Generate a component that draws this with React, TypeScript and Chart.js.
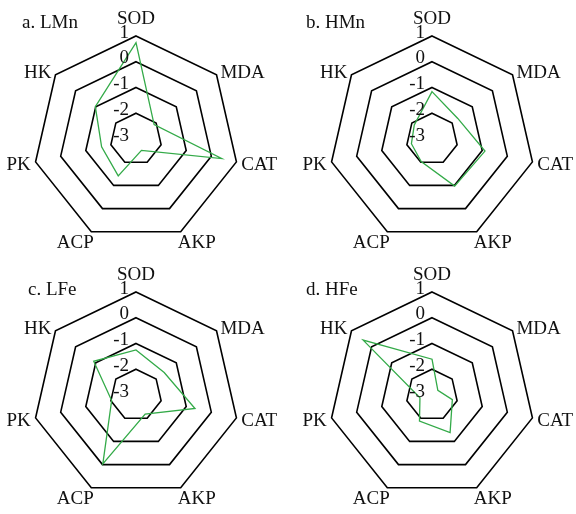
import React, { useEffect, useRef } from "react";
import { Chart, registerables } from "chart.js";

Chart.register(...registerables);

const AXES = ["SOD", "MDA", "CAT", "AKP", "ACP", "PK", "HK"];
const TICK_VALUES = [1, 0, -1, -2, -3];
const TICK_LABELS = ["1", "0", "-1", "-2", "-3"];
const TITLES = ["a. LMn", "b. HMn", "c. LFe", "d. HFe"];

const LMN = [0.74, -2.1, 0.41, -2.51, -1.41, -1.63, -0.98];
const HMN = [-1.16, -1.72, -0.89, -0.97, -2.03, -2.18, -2.12];
const LFE = [-1.25, -1.6, -0.65, -2.18, -0.03, -2.03, -0.9];
const HFE = [-1.61, -2.71, -2.19, -1.38, -1.88, -2.52, 0.42];

const SERIES = [LMN, HMN, LFE, HFE];

// layout of each panel (cell position, chart centre, title position)
const PANELS = [
  { left: 0, top: 0, cx: 136, cy: 139, tx: 22, ty: 28 },
  { left: 288, top: 0, cx: 144, cy: 139, tx: 18, ty: 28 },
  { left: 0, top: 257, cx: 136, cy: 138, tx: 28, ty: 38 },
  { left: 288, top: 257, cx: 144, cy: 138, tx: 18, ty: 38 },
];
const CELL_W = 288;
const CELL_H = 257;
const RADIUS = 103;
const FONT = "19px 'Liberation Serif', 'Times New Roman', serif";

function RadarPanel({ idx }: { idx: number }) {
  const ref = useRef<HTMLCanvasElement | null>(null);
  useEffect(() => {
    const p = PANELS[idx];
    const labelPlugin = {
      id: "customText",
      afterDraw(chart: any) {
        const ctx = chart.ctx;
        const scale = chart.scales.r;
        const r = scale.drawingArea;
        ctx.save();
        ctx.font = FONT;
        ctx.fillStyle = "#111";
        // axis labels
        AXES.forEach((lab, i) => {
          const v = scale.getPointPosition(i, r);
          const q = scale.getPointPosition(i, r + 5);
          const dx = (v.x - scale.xCenter) / r;
          const dy = (v.y - scale.yCenter) / r;
          ctx.textBaseline = "alphabetic";
          if (dy < -0.99) {
            ctx.textAlign = "center";
            ctx.fillText(lab, v.x, v.y - 12);
          } else if (dy > 0.8) {
            ctx.textAlign = "center";
            ctx.fillText(lab, v.x + Math.sign(dx) * 16, v.y + 16);
          } else {
            ctx.textAlign = dx > 0 ? "left" : "right";
            ctx.fillText(lab, q.x, q.y + 6.5);
          }
        });
        // tick labels
        ctx.textAlign = "right";
        ctx.textBaseline = "alphabetic";
        TICK_VALUES.forEach((val, k) => {
          const pt = scale.getPointPositionForValue(0, val);
          ctx.fillText(TICK_LABELS[k], scale.xCenter - 7, pt.y + 1.5);
        });
        // title
        ctx.textAlign = "left";
        ctx.fillText(TITLES[idx], p.tx, p.ty);
        ctx.restore();
      },
    };
    const chart = new Chart(ref.current as HTMLCanvasElement, {
      type: "radar",
      data: {
        labels: AXES,
        datasets: [
          {
            data: SERIES[idx],
            borderColor: "#33aa48",
            borderWidth: 1.3,
            fill: false,
            pointRadius: 0,
            pointHoverRadius: 0,
            tension: 0,
          },
        ],
      },
      options: {
        responsive: false,
        animation: false,
        events: [],
        layout: {
          padding: {
            left: p.cx - RADIUS,
            top: p.cy - RADIUS,
            right: CELL_W - p.cx - RADIUS,
            bottom: CELL_H - p.cy - RADIUS,
          },
        },
        plugins: {
          legend: { display: false },
          tooltip: { enabled: false },
          title: { display: false },
        },
        scales: {
          r: {
            min: -3,
            max: 1,
            ticks: { display: false, stepSize: 1 },
            grid: { circular: false, color: "#000", lineWidth: 1.6 },
            angleLines: { display: false },
            pointLabels: { display: false },
          },
        },
      },
      plugins: [labelPlugin],
    });
    return () => chart.destroy();
  }, [idx]);
  const p = PANELS[idx];
  return (
    <canvas
      ref={ref}
      width={CELL_W}
      height={CELL_H}
      style={{ position: "absolute", left: p.left, top: p.top, width: CELL_W, height: CELL_H }}
    />
  );
}

export default function App() {
  return (
    <div style={{ position: "absolute", left: 0, top: 0, width: 576, height: 514, background: "#fff" }}>
      {PANELS.map((_, i) => (
        <RadarPanel key={i} idx={i} />
      ))}
    </div>
  );
}
